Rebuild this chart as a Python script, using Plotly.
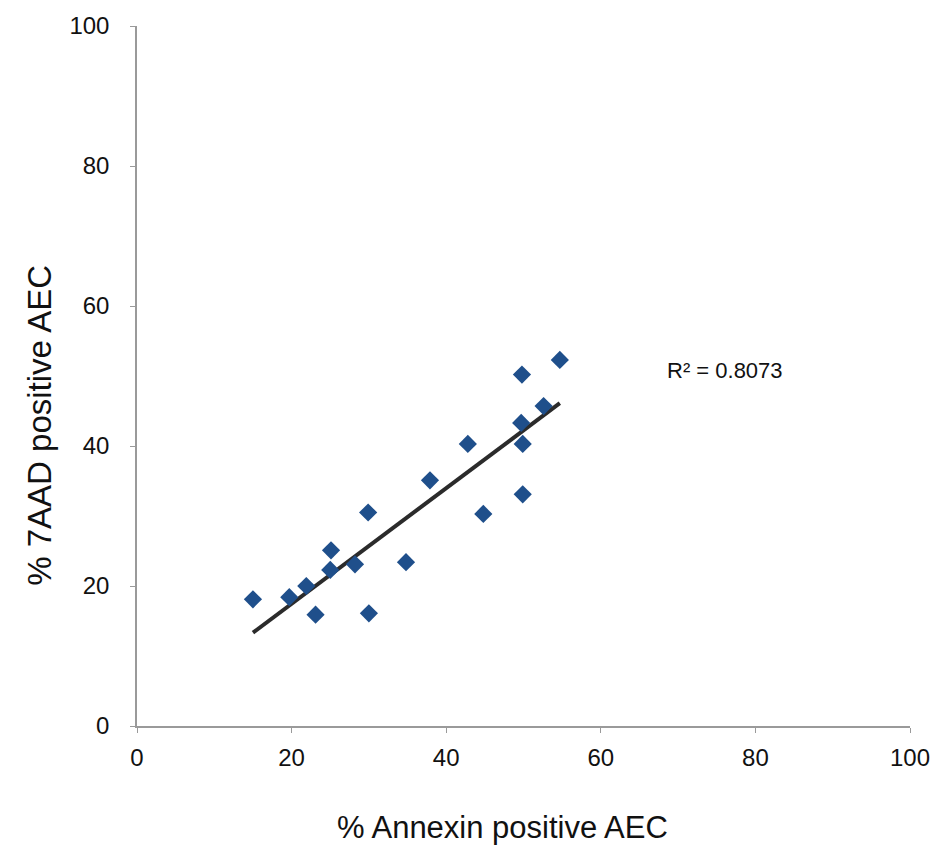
import numpy as np
import plotly.graph_objects as go

annexin = [15.0, 19.7, 21.9, 23.1, 25.1, 25.0, 28.2, 29.9, 30.0, 34.8,
           37.9, 42.8, 44.8, 49.8, 49.7, 49.9, 49.9, 52.6, 54.7]
aad7 = [18.1, 18.4, 20.0, 15.9, 25.1, 22.3, 23.1, 30.5, 16.1, 23.4,
        35.1, 40.3, 30.3, 50.2, 43.3, 40.3, 33.1, 45.7, 52.3]
r2_text = "R² = 0.8073"
x_title = "% Annexin positive AEC"
y_title = "% 7AAD positive AEC"
ticks = [0, 20, 40, 60, 80, 100]

slope, intercept = np.polyfit(annexin, aad7, 1)
fit_x = [min(annexin), max(annexin)]
fit_y = [slope * v + intercept for v in fit_x]

font = "Liberation Sans, Arial, sans-serif"

fig = go.Figure()
fig.add_trace(go.Scatter(x=fit_x, y=fit_y, mode="lines",
                         line=dict(color="#2b2b2b", width=4), hoverinfo="skip"))
fig.add_trace(go.Scatter(x=annexin, y=aad7, mode="markers",
                         marker=dict(symbol="diamond", size=14, color="#1f4f8b",
                                     line=dict(width=0))))

fig.add_annotation(x=68.3, y=50.8, text=r2_text, showarrow=False, xanchor="left",
                   yanchor="middle", font=dict(family=font, size=22, color="#111"))
fig.add_annotation(xref="paper", yref="paper", x=0.473, y=-0.1455, text=x_title,
                   showarrow=False, xanchor="center", yanchor="middle",
                   font=dict(family=font, size=31, color="#111"))
fig.add_annotation(xref="paper", yref="paper", x=-0.127, y=0.43, text=y_title,
                   textangle=-90, showarrow=False, xanchor="center", yanchor="middle",
                   font=dict(family=font, size=33, color="#111"))

axis_common = dict(range=[0, 100], tickvals=ticks, showgrid=False, zeroline=False,
                   showline=True, linecolor="#9a9a9a", linewidth=1.5,
                   ticks="outside", ticklen=5, tickcolor="#9a9a9a",
                   tickfont=dict(family=font, size=24, color="#111"))

fig.update_layout(
    width=942, height=848,
    margin=dict(l=137, r=27, t=25, b=122),
    paper_bgcolor="white", plot_bgcolor="white",
    showlegend=False,
    xaxis=dict(**axis_common, ticklabelstandoff=4),
    yaxis=dict(**axis_common, ticklabelstandoff=16),
)

fig.write_html("out.html")
